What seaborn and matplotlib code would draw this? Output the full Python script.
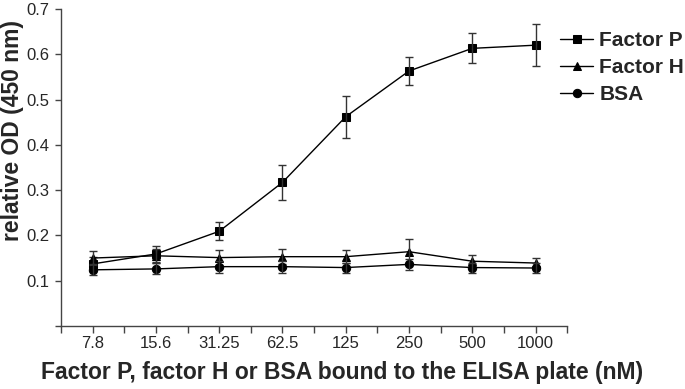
import numpy as np
import pandas as pd
import matplotlib
matplotlib.use('Agg')
import matplotlib.pyplot as plt
import seaborn as sns

# 농도 (x축 카테고리)
conc = ['7.8', '15.6', '31.25', '62.5', '125', '250', '500', '1000']

# 각 단백질의 평균 OD 값과 오차
factor_p = [0.137, 0.159, 0.209, 0.317, 0.462, 0.563, 0.613, 0.620]
factor_p_err = [0.015, 0.017, 0.020, 0.038, 0.046, 0.031, 0.033, 0.046]
factor_h = [0.150, 0.155, 0.151, 0.153, 0.153, 0.164, 0.143, 0.139]
factor_h_err = [0.016, 0.015, 0.016, 0.017, 0.015, 0.027, 0.014, 0.012]
bsa = [0.124, 0.126, 0.131, 0.131, 0.129, 0.136, 0.129, 0.128]
bsa_err = [0.012, 0.012, 0.013, 0.013, 0.011, 0.012, 0.011, 0.011]

series = [('Factor P', factor_p, factor_p_err, 's'),
          ('Factor H', factor_h, factor_h_err, '^'),
          ('BSA', bsa, bsa_err, 'o')]

sns.set_style('ticks')
plt.rcParams['font.family'] = ['Liberation Sans', 'DejaVu Sans']

fig = plt.figure(figsize=(6.85, 3.89), dpi=100)
ax = fig.add_axes([0.089, 0.162, 0.739, 0.815])

pos = np.arange(len(conc))
for name, vals, errs, mk in series:
    sns.lineplot(x=pos, y=vals, marker=mk, markersize=6, color='black',
                 markeredgecolor='black', linewidth=1, label=name, ax=ax)
    ax.errorbar(pos, vals, yerr=errs, fmt='none', ecolor='#333333',
                elinewidth=1, capsize=3, capthick=1)

ax.set_xlim(-0.5, len(conc) - 0.5)
ax.set_ylim(0, 0.7)
ax.set_xticks(pos)
ax.set_xticklabels(conc, fontsize=12)
ax.set_xticks(np.arange(-0.5, len(conc), 0.5), minor=True)
ax.set_yticks(np.arange(0, 0.71, 0.1))
ax.set_yticklabels([''] + ['%.1f' % v for v in np.arange(0.1, 0.71, 0.1)], fontsize=12)
ax.tick_params(axis='x', which='both', length=5, width=1, color='#444444', pad=2)
ax.tick_params(axis='y', length=4, width=1, color='#444444', pad=4)
sns.despine(ax=ax)
for s in ['left', 'bottom']:
    ax.spines[s].set_color('#444444')
    ax.spines[s].set_linewidth(1)

ax.set_xlabel('Factor P, factor H or BSA bound to the ELISA plate (nM)',
              fontsize=16.5, fontweight='bold')
ax.set_ylabel('relative OD (450 nm)', fontsize=16.5, fontweight='bold')
ax.xaxis.set_label_coords(0.555, -0.112)
ax.yaxis.set_label_coords(-0.073, 0.618)

ax.legend(loc='upper left', bbox_to_anchor=(0.986, 0.93), frameon=False,
          prop={'weight': 'bold', 'size': 15}, handlelength=1.6,
          handletextpad=0.28, labelspacing=0.38, borderaxespad=0,
          borderpad=0)

plt.savefig('out.png', dpi=100)
